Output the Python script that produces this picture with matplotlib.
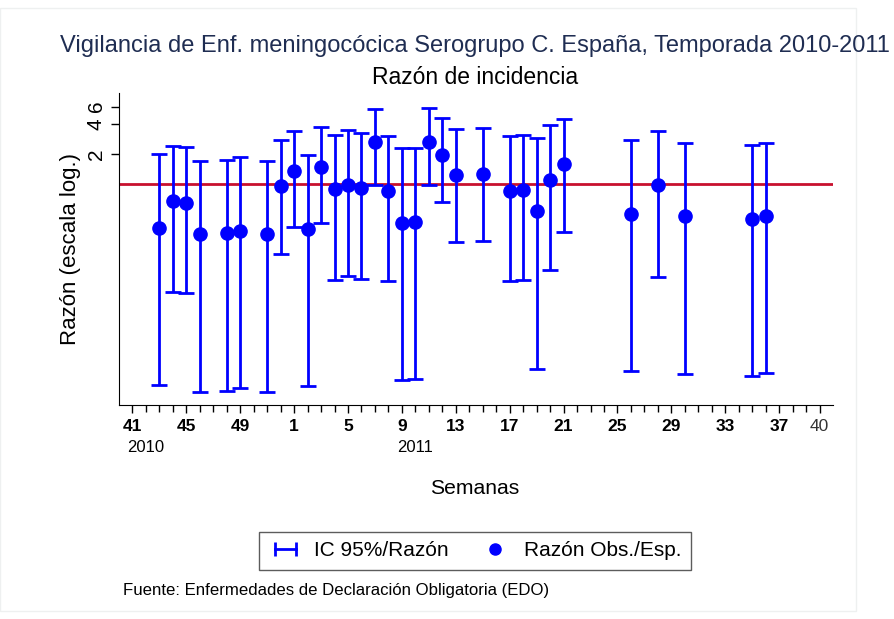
import numpy as np
import matplotlib
matplotlib.use('Agg')
import matplotlib.pyplot as plt
from matplotlib.lines import Line2D
from matplotlib.patches import Rectangle
from matplotlib.legend_handler import HandlerLine2D

plt.rcParams['font.family'] = ['Liberation Sans', 'DejaVu Sans']

# Weeks of the season (2010 wk 41 -> 2011 wk 40) that have data
years = [2010, 2010, 2010, 2010, 2010, 2010, 2010, 2010,
         2011, 2011, 2011, 2011, 2011, 2011, 2011, 2011, 2011, 2011, 2011, 2011, 2011,
         2011, 2011, 2011, 2011, 2011, 2011, 2011, 2011, 2011, 2011, 2011]
weeks = [43, 44, 45, 46, 48, 49, 51, 52,
         1, 2, 3, 4, 5, 6, 7, 8, 9, 10, 11, 12, 13,
         15, 17, 18, 19, 20, 21, 26, 28, 30, 35, 36]
ratio = [0.367, 0.68, 0.654, 0.315, 0.320, 0.342, 0.315, 0.96,
         1.34, 0.356, 1.49, 0.89, 0.98, 0.91, 2.64, 0.86, 0.412, 0.419, 2.67, 1.98, 1.24,
         1.27, 0.86, 0.87, 0.536, 1.10, 1.59, 0.507, 0.97, 0.478, 0.452, 0.484]
ci_low = [0.0097, 0.0837, 0.0807, 0.0083, 0.0085, 0.0090, 0.0083, 0.20,
          0.373, 0.0095, 0.412, 0.110, 0.121, 0.112, 0.98, 0.107, 0.0109, 0.0111, 0.99, 0.66, 0.264,
          0.266, 0.107, 0.110, 0.0139, 0.137, 0.332, 0.0135, 0.118, 0.0126, 0.0118, 0.0128]
ci_high = [2.0, 2.42, 2.33, 1.71, 1.75, 1.87, 1.71, 2.74,
           3.42, 1.94, 3.73, 3.14, 3.50, 3.22, 5.65, 3.05, 2.28, 2.30, 5.78, 4.62, 3.56,
           3.64, 3.05, 3.10, 2.91, 3.93, 4.52, 2.78, 3.42, 2.60, 2.44, 2.61]

tick_weeks = [41, 45, 49, 1, 5, 9, 13, 17, 21, 25, 29, 33, 37]
tick_years = [2010, 2010, 2010, 2011, 2011, 2011, 2011, 2011, 2011, 2011, 2011, 2011, 2011]
y_ticks = [2, 4, 6]


def season_index(year, week):
    # 2010 has 52 weeks; season starts at week 41 of 2010
    if year == 2010:
        return week - 41
    return week + 11


x = np.array([season_index(y, w) for y, w in zip(years, weeks)])
r = np.array(ratio)
lo = np.array(ci_low)
hi = np.array(ci_high)

fig = plt.figure(figsize=(8.94, 6.19), dpi=100)
ax = fig.add_axes([119/894, 1 - 405/619, (833-119)/894, (405-93)/619])

blue = '#0000ff'
ax.axhline(1, color='#c8102e', lw=2, zorder=1)
ax.errorbar(x, r, yerr=[r - lo, hi - r], fmt='none', ecolor=blue,
            elinewidth=2, capsize=5.5, capthick=2, zorder=2)
ax.plot(x, r, 'o', color=blue, markersize=9.5, zorder=3)

ax.set_yscale('log')
ax.set_ylim(0.0061, 8.2)
ax.set_xlim(-1, 52)

ax.spines['top'].set_visible(False)
ax.spines['right'].set_visible(False)

ax.set_yticks(y_ticks)
ax.set_yticklabels([str(v) for v in y_ticks], rotation=90, va='center', fontsize=15)
ax.yaxis.set_minor_locator(matplotlib.ticker.NullLocator())
ax.tick_params(axis='y', length=6, width=1)

major_pos = [season_index(y, w) for y, w in zip(tick_years, tick_weeks)] + [51]
ax.set_xticks(major_pos)
labels = ax.set_xticklabels([str(w) for w in tick_weeks] + ['40'], fontsize=12.5)
for lab in labels[:-1]:
    lab.set_fontweight('bold')
labels[-1].set_color('#333333')
ax.set_xticks(np.arange(0, 52), minor=True)
ax.tick_params(axis='x', which='major', length=6, width=1, pad=4)
ax.tick_params(axis='x', which='minor', length=5, width=1)

ax.text(-0.37, -0.135, '2010', transform=ax.get_xaxis_transform(), ha='left',
        va='center', fontsize=12)
ax.text(season_index(2011, 9) - 0.35, -0.135, '2011', transform=ax.get_xaxis_transform(),
        ha='left', va='center', fontsize=12)

ax.set_ylabel('Razón (escala log.)', fontsize=16, labelpad=4)
fig.text(475/894, 1 - 488/619, 'Semanas', ha='center', va='center', fontsize=15.2)

fig.text(475/894, 1 - 46/619, 'Vigilancia de Enf. meningocócica Serogrupo C. España, Temporada 2010-2011',
         ha='center', va='center', fontsize=17, color='#1f2d52')
fig.text(475/894, 1 - 77/619, 'Razón de incidencia', ha='center', va='center', fontsize=16.5)

ic_handle = Line2D([0], [0], color=blue, lw=2, marker='|', markersize=10, markeredgewidth=2)
dot_handle = Line2D([0], [0], color=blue, lw=0, marker='o', markersize=8)
leg = fig.legend([ic_handle, dot_handle], ['IC 95%/Razón', 'Razón Obs./Esp.'], loc='center',
                 bbox_to_anchor=(475/894, 1 - 551/619), ncol=2, fontsize=15,
                 frameon=True, fancybox=False, edgecolor='#333333', handlelength=1.6,
                 handletextpad=0.6, columnspacing=1.4, borderpad=0.45, borderaxespad=0,
                 handler_map={ic_handle: HandlerLine2D(numpoints=2)})
leg.get_frame().set_linewidth(1)

fig.text(123/894, 1 - 590/619, 'Fuente: Enfermedades de Declaración Obligatoria (EDO)',
         ha='left', va='center', fontsize=12.1)

fig.patches.append(Rectangle((0, 8/619), 856/894, 1 - 16/619, transform=fig.transFigure,
                             fill=False, edgecolor='#eef0f0', lw=1))

fig.savefig('out.png', dpi=100)
